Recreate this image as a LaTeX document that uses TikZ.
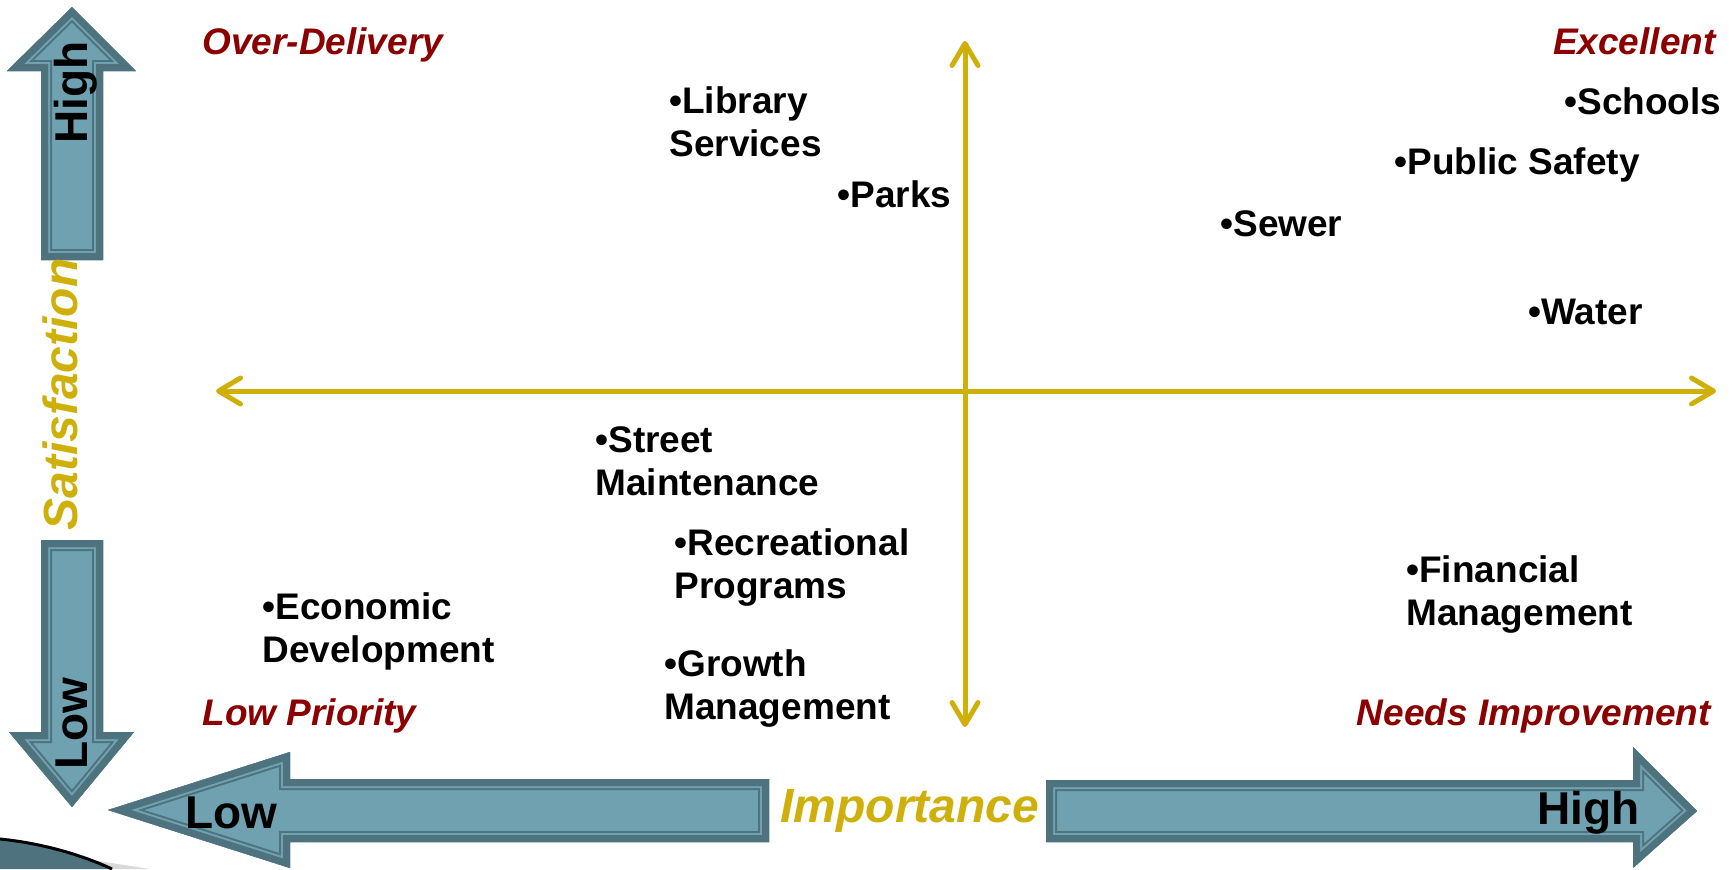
\documentclass[tikz,border=0pt]{standalone}
\usepackage{fontspec}
\setmainfont{Liberation Sans}
\usepackage{tikz}
\usetikzlibrary{arrows.meta}

\definecolor{darkred}{HTML}{8B0000}
\definecolor{gold}{HTML}{CFB00A}
\definecolor{tealfill}{HTML}{6FA1B0}
\definecolor{tealdark}{HTML}{4E737F}

\newcommand{\tealarrow}[1]{%
  \begin{scope}
    \clip #1;
    \fill[tealfill] #1;
    \draw[tealdark, line width=11pt] #1;
    \draw[tealfill, line width=9pt] #1;
    \draw[tealdark, line width=7pt] #1;
  \end{scope}}

\begin{document}
\begin{tikzpicture}[x=0.5pt, y=-0.5pt,
    item/.style={anchor=north west, inner sep=0pt, align=left, font=\fontsize{18.5}{21.5}\selectfont\bfseries},
    quad/.style={inner sep=0pt, text=darkred, font=\fontsize{18.5}{21.5}\selectfont\bfseries\itshape},
    axislabel/.style={anchor=base west, inner sep=0pt, text=gold, font=\fontsize{24}{28}\selectfont\bfseries\itshape},
    arrowtext/.style={anchor=base west, inner sep=0pt, font=\fontsize{23}{27}\selectfont\bfseries},
    axis/.style={gold, line width=2.5pt, line cap=round, {Straight Barb[length=11pt, width=13pt, round]}-{Straight Barb[length=11pt, width=13pt, round]}}]
    \useasboundingbox (0,0) rectangle (1734,869);

    % corner swoosh
    \fill[tealdark] (0,839) .. controls (40,843) and (80,854) .. (112,869) -- (0,869) -- cycle;
    \fill[black!15] (92,860) -- (150,869) -- (112,869) -- cycle;
    \draw[black, line width=1.5pt] (0,839) .. controls (40,843) and (80,854) .. (112,869);

    % big arrows
    \tealarrow{(41,260) -- (41,71) -- (7,71) -- (72,7) -- (136,71) -- (103,71) -- (103,260) -- cycle}
    \tealarrow{(41,540) -- (41,732) -- (9,732) -- (72,807) -- (134,732) -- (103,732) -- (103,540) -- cycle}
    \tealarrow{(769,779) -- (290,779) -- (290,752) -- (108,810) -- (290,868) -- (290,842) -- (769,842) -- cycle}
    \tealarrow{(1046,780) -- (1633,780) -- (1633,747) -- (1697,811) -- (1633,868) -- (1633,842) -- (1046,842) -- cycle}

    \node[arrowtext, rotate=90](sathigh) at (87,144) {High};
    \node[arrowtext, rotate=90](satlow) at (87,770) {Low};
    \node[arrowtext](implow) at (185,828) {Low};
    \node[arrowtext](imphigh) at (1537,824) {High};

    \node[axislabel, rotate=90](sat) at (77,531) {Satisfaction};
    \node[axislabel](imp) at (780,822) {Importance};

    % axes
    \coordinate (top) at (965,41);
    \coordinate (bottom) at (965,727);
    \coordinate (left) at (216,391);
    \coordinate (right) at (1716,391);
    \draw[axis] (top) -- (bottom);
    \draw[axis] (left) -- (right);

    % quadrant names
    \node[quad, anchor=north west](over) at (202,27) {Over-Delivery};
    \node[quad, anchor=north east](exc) at (1716,27) {Excellent};
    \node[quad, anchor=north west](lowpri) at (202,698) {Low Priority};
    \node[quad, anchor=north east](needs) at (1711,698) {Needs Improvement};

    % services
    \node[item](lib) at (669,86) {•Library\\Services};
    \node[item](parks) at (837,180) {•Parks};
    \node[item](schools) at (1564,87) {•Schools};
    \node[item](safety) at (1394,147) {•Public Safety};
    \node[item](sewer) at (1220,210) {•Sewer};
    \node[item](water) at (1528,299) {•Water};
    \node[item](street) at (595,426) {•Street\\Maintenance};
    \node[item](rec) at (674,528) {•Recreational\\Programs};
    \node[item](econ) at (262,592) {•Economic\\Development};
    \node[item](growth) at (664,649) {•Growth\\Management};
    \node[item](fin) at (1406,555) {•Financial\\Management};
\end{tikzpicture}
\end{document}
